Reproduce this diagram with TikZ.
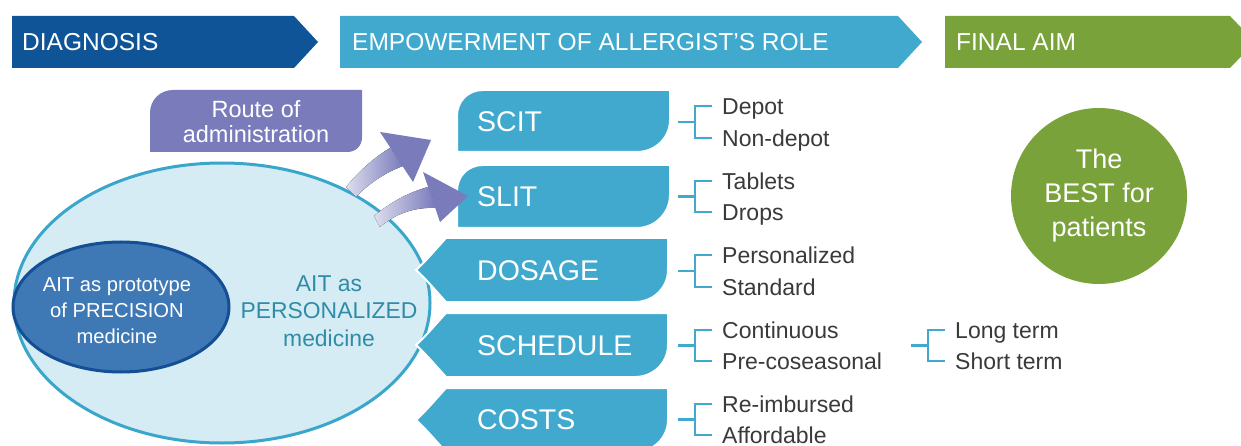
\documentclass[tikz,border=0pt]{standalone}
\usepackage{fontspec}
\setmainfont{Liberation Sans}
\usetikzlibrary{calc,shapes.geometric}
\definecolor{dkblue}{RGB}{16,84,152}
\definecolor{tealc}{RGB}{64,169,205}
\definecolor{greenc}{RGB}{122,162,58}
\definecolor{purp}{RGB}{121,123,187}
\definecolor{lblue}{RGB}{214,236,244}
\definecolor{ellstroke}{RGB}{58,166,203}
\definecolor{innerfill}{RGB}{62,121,182}
\definecolor{innerstroke}{RGB}{20,78,148}
\definecolor{tealtext}{RGB}{48,140,166}
\definecolor{graytext}{RGB}{58,58,58}
\begin{document}
\begin{tikzpicture}[x=1pt,y=-1pt,
  bannertext/.style={anchor=west,text=white,inner sep=0pt,
    font=\fontsize{24.5}{28}\selectfont,text height=17.5pt,text depth=0pt},
  boxtext/.style={anchor=west,text=white,inner sep=0pt,
    font=\fontsize{28.5}{32}\selectfont,text height=20.4pt,text depth=0pt},
  item/.style={anchor=west,text=graytext,inner sep=0pt,
    font=\fontsize{23}{26}\selectfont,text height=16.5pt,text depth=0pt},
  br/.style={draw=tealc,line width=2.2pt},
  boxfill/.style={fill=tealc,draw=white,line width=2pt},
  arrowbody/.style={left color=purp!25,right color=purp,draw=none},
]
\clip (0,0) rectangle (1241,446);
\useasboundingbox (0,0) rectangle (1241,446);
\fill[white] (0,0) rectangle (1241,446);

% banners
\fill[dkblue] (12,16) -- (294,16) -- (318,42) -- (294,68) -- (12,68) -- cycle;
\fill[tealc] (340,16) -- (898,16) -- (922,42) -- (898,68) -- (340,68) -- cycle;
\fill[greenc] (945,16) -- (1230,16) -- (1255,42) -- (1230,68) -- (945,68) -- cycle;
\node[bannertext] (diag) at (22,42) {DIAGNOSIS};
\node[bannertext] (emp) at (352,42) {EMPOWERMENT OF ALLERGIST’S ROLE};
\node[bannertext] (aim) at (956,42) {FINAL AIM};

% route of administration box
\fill[purp] (150,152) -- (150,113) .. controls (150,100) and (160,90) .. (173,90)
  -- (362,90) -- (362,137) .. controls (362,146) and (356,152) .. (347,152) -- cycle;
\node[text=white,align=center,font=\fontsize{23.5}{25}\selectfont,inner sep=0pt]
  (route) at (256,122) {Route of\\administration};

% big ellipse
\node[ellipse,fill=lblue,draw=ellstroke,line width=3pt,inner sep=0pt,
  minimum width=416pt,minimum height=280pt] (pers) at (222,303) {};
\node[ellipse,fill=innerfill,draw=innerstroke,line width=3pt,inner sep=0pt,
  minimum width=216pt,minimum height=130pt] (prec) at (121,307) {};
\node[text=white,align=center,font=\fontsize{20.2}{26}\selectfont,inner sep=0pt]
  (prectext) at (117,311) {AIT as prototype\\of PRECISION\\medicine};
\node[text=tealtext,align=center,font=\fontsize{22.9}{27.5}\selectfont,inner sep=0pt]
  (perstext) at (329,311) {AIT as\\PERSONALIZED\\medicine};

% teal boxes
\fill[boxfill] (457,152) -- (457,116) .. controls (457,101) and (468,90) .. (483,90)
  -- (670,90) -- (670,120) .. controls (670,138) and (655,152) .. (637,152) -- cycle;
\fill[boxfill] (457,228) -- (457,191) .. controls (457,176) and (468,165) .. (483,165)
  -- (670,165) -- (670,195) .. controls (670,213) and (655,228) .. (637,228) -- cycle;
\fill[boxfill] (446,238) -- (668,238) -- (668,270) .. controls (668,288) and (653,302) .. (635,302)
  -- (446,302) .. controls (435,290) and (425,278) .. (416,270) .. controls (425,262) and (435,250) .. (446,238) -- cycle;
\fill[boxfill] (446,313) -- (668,313) -- (668,345) .. controls (668,363) and (653,377) .. (635,377)
  -- (446,377) .. controls (435,365) and (425,353) .. (416,345) .. controls (425,337) and (435,325) .. (446,313) -- cycle;
\fill[boxfill] (446,388) -- (668,388) -- (668,420) .. controls (668,438) and (653,452) .. (635,452)
  -- (446,452) .. controls (435,440) and (425,428) .. (416,420) .. controls (425,412) and (435,400) .. (446,388) -- cycle;
\node[boxtext] (scit) at (477,121) {SCIT};
\node[boxtext] (slit) at (477,196) {SLIT};
\node[boxtext] (dosage) at (477,270) {DOSAGE};
\node[boxtext] (schedule) at (477,345) {SCHEDULE};
\node[boxtext] (costs) at (477,419) {COSTS};

% purple brush arrows
\fill[arrowbody] (346,187) .. controls (360,170) and (375,157) .. (390,148)
  -- (403,166) .. controls (386,172) and (368,184) .. (356,197) -- cycle;
\fill[purp] (380,132) -- (431,140) -- (413,182) -- cycle;
\fill[arrowbody] (374,216) .. controls (392,201) and (410,192) .. (428,187)
  -- (435,208) .. controls (414,207) and (395,214) .. (380,227) -- cycle;
\fill[purp] (423,172) -- (468,196) -- (440,222) -- cycle;

% items
\node[item] (depot) at (722,106) {Depot};
\node[item] (nondepot) at (722,138) {Non-depot};
\node[item] (tablets) at (722,181) {Tablets};
\node[item] (drops) at (722,212) {Drops};
\node[item] (persd) at (722,255) {Personalized};
\node[item] (std) at (722,287) {Standard};
\node[item] (cont) at (722,330) {Continuous};
\node[item] (precos) at (722,361) {Pre-coseasonal};
\node[item] (reimb) at (722,404) {Re-imbursed};
\node[item] (afford) at (722,435) {Affordable};
\node[item] (longt) at (955,330) {Long term};
\node[item] (shortt) at (955,361) {Short term};

% brackets
\foreach \a/\b in {depot/nondepot,tablets/drops,persd/std,cont/precos,reimb/afford,longt/shortt}{
  \draw[br] ([xshift=-10pt]\a.west) -- ([xshift=-27pt]\a.west) -- ([xshift=-27pt]\b.west) -- ([xshift=-10pt]\b.west);
  \draw[br] ($([xshift=-27pt]\a.west)!0.5!([xshift=-27pt]\b.west)$) -- ++(-17,0);
}

% final aim circle
\node[circle,fill=greenc,minimum size=176pt,inner sep=0pt,text=white,align=center,
  font=\fontsize{27}{34}\selectfont] (best) at (1099,196) {The\\BEST for\\patients};
\end{tikzpicture}
\end{document}
